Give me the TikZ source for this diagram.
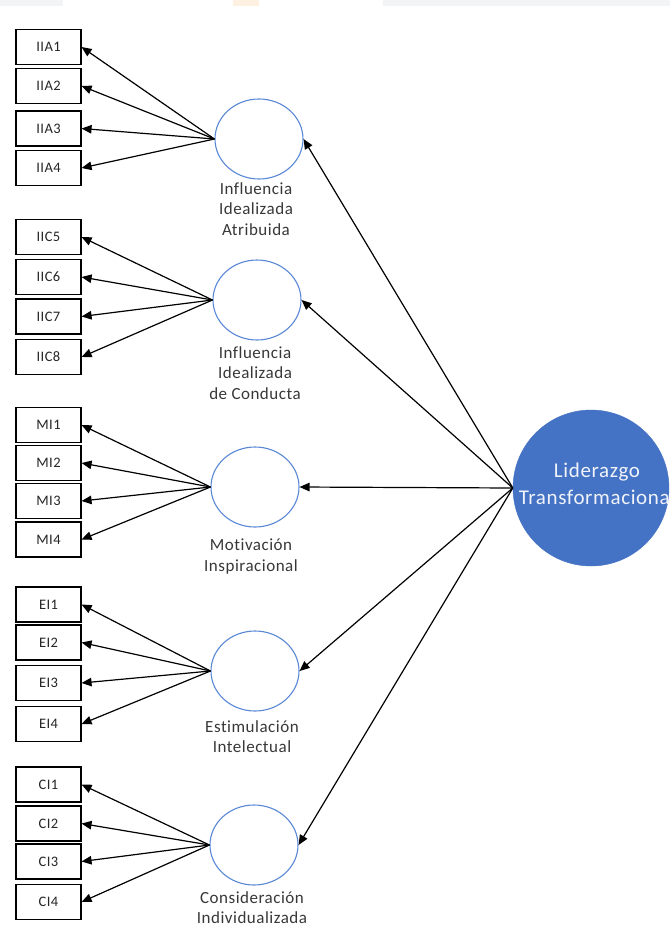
\documentclass[tikz,border=0pt]{standalone}
\usepackage{fontspec}
\setmainfont{Carlito}[Ligatures=CommonOff, LetterSpace=3]
\usetikzlibrary{arrows.meta,shapes.geometric}
\definecolor{ringblue}{HTML}{5A88D6}
\definecolor{coreblue}{HTML}{4472C4}
\definecolor{labelgray}{HTML}{383838}
\definecolor{stripgray}{HTML}{F3F4F6}
\definecolor{stripcream}{HTML}{FFF1E2}
\tikzset{
  item/.style={draw=black, line width=1.1pt, minimum width=65pt, minimum height=35pt,
    inner sep=0pt, font=\fontsize{14.5}{16}\selectfont, text=black!85},
  factor/.style={ellipse, draw=ringblue, line width=1.1pt, minimum width=88pt,
    minimum height=80pt, inner sep=0pt},
  caption/.style={anchor=north, align=center, inner sep=0pt,
    font=\fontsize{17}{20.5}\selectfont, text=labelgray},
  load/.style={-{Triangle[length=10pt,width=8.5pt]}, line width=1.2pt},
}
\begin{document}
\begin{tikzpicture}[x=1pt,y=-1pt]
\useasboundingbox (0,0) rectangle (670,927);
\clip (0,0) rectangle (670,927);
\fill[white] (0,0) rectangle (670,927);
% faint band along the top edge
\fill[stripgray] (0,0) rectangle (63,6);
\fill[stripgray] (383,0) rectangle (670,6);
\fill[stripcream] (233,0) rectangle (259,6);

% second-order factor
\node[circle, fill=coreblue, draw=coreblue, minimum size=156pt, inner sep=0pt] (core) at (591,488) {};
\node[align=center, inner sep=0pt, text=white!92!coreblue, font=\fontsize{21}{27}\selectfont]
  (coretext) at (597,484) {Liderazgo\\Transformacional};

% first-order factors
\node[factor] (fA) at (259,139) {};
\node[factor] (fB) at (257,300) {};
\node[factor] (fC) at (255,487) {};
\node[factor] (fD) at (255,671) {};
\node[factor] (fE) at (254,845) {};

\node[caption] (capA) at (256,182) {Influencia\\Idealizada\\Atribuida};
\node[caption] (capB) at (255,346) {Influencia\\Idealizada\\de Conducta};
\node[caption] (capC) at (251,539) {Motivación\\Inspiracional};
\node[caption] (capD) at (252,720) {Estimulación\\Intelectual};
\node[caption] (capE) at (252,891) {Consideración\\Individualizada};

% indicators and loadings
\foreach \name/\y in {IIA1/47, IIA2/86, IIA3/128.5, IIA4/168}{
  \node[item] (\name) at (48.5,\y) {\name};
  \draw[load] (fA.west) -- (\name.east);
}
\foreach \name/\y in {IIC5/237, IIC6/277, IIC7/316.5, IIC8/357}{
  \node[item] (\name) at (48.5,\y) {\name};
  \draw[load] (fB.west) -- (\name.east);
}
\foreach \name/\y in {MI1/425, MI2/463, MI3/501, MI4/539.5}{
  \node[item] (\name) at (48.5,\y) {\name};
  \draw[load] (fC.west) -- (\name.east);
}
\foreach \name/\y in {EI1/604.5, EI2/642.5, EI3/683, EI4/724}{
  \node[item] (\name) at (48.5,\y) {\name};
  \draw[load] (fD.west) -- (\name.east);
}
\foreach \name/\y in {CI1/784.5, CI2/823.5, CI3/861.5, CI4/902}{
  \node[item] (\name) at (48.5,\y) {\name};
  \draw[load] (fE.west) -- (\name.east);
}

% structural paths
\foreach \f in {fA,fB,fC,fD,fE}{
  \draw[load] (core.west) -- (\f.east);
}
\end{tikzpicture}
\end{document}
